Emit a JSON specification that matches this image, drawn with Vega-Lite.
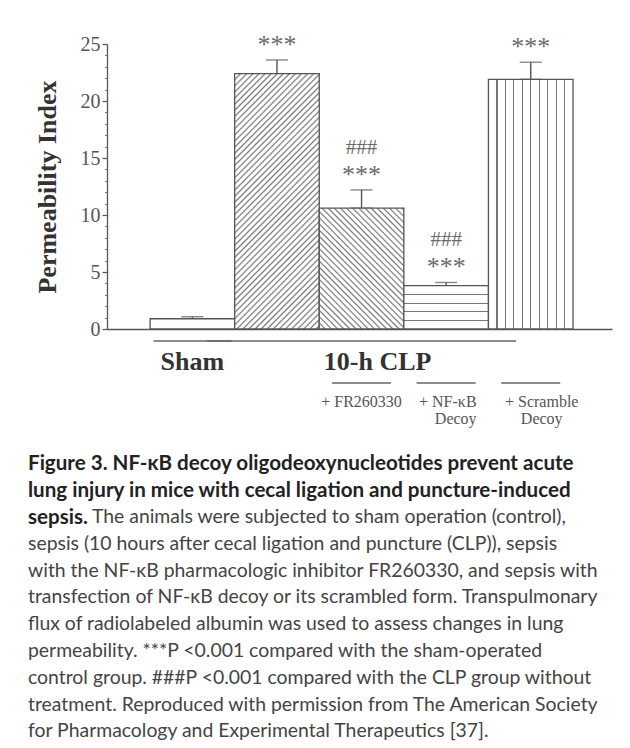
{
  "$schema": "https://vega.github.io/schema/vega-lite/v6.json",
  "width": 505,
  "height": 285,
  "autosize": {"type": "none"},
  "padding": {"left": 107, "top": 44, "right": 18, "bottom": 419},
  "background": "white",
  "config": {"view": {"stroke": null}, "axis": {"grid": false}},
  "title": {
    "text": [
      "Figure 3. NF-κB decoy oligodeoxynucleotides prevent acute",
      "lung injury in mice with cecal ligation and puncture-induced",
      "sepsis."
    ],
    "subtitle": [
      "\u200b\u00a0\u00a0\u00a0\u00a0\u00a0\u00a0\u00a0\u00a0\u00a0\u00a0\u00a0\u00a0\u00a0The animals were subjected to sham operation (control),",
      "sepsis (10 hours after cecal ligation and puncture (CLP)), sepsis",
      "with the NF-κB pharmacologic inhibitor FR260330, and sepsis with",
      "transfection of NF-κB decoy or its scrambled form. Transpulmonary",
      "flux of radiolabeled albumin was used to assess changes in lung",
      "permeability. ***P <0.001 compared with the sham-operated",
      "control group. ###P <0.001 compared with the CLP group without",
      "treatment. Reproduced with permission from The American Society",
      "for Pharmacology and Experimental Therapeutics [37]."
    ],
    "orient": "bottom",
    "anchor": "start",
    "frame": "group",
    "offset": 27,
    "dx": -79,
    "font": "Lato",
    "fontSize": 20.6,
    "fontWeight": "bold",
    "color": "#222222",
    "lineHeight": 26.8,
    "subtitleFont": "Lato",
    "subtitleFontSize": 19.4,
    "subtitleFontWeight": "normal",
    "subtitleColor": "#444444",
    "subtitleLineHeight": 26.8,
    "subtitlePadding": -20.2
  },
  "datasets": {
    "bars": [
      {"group": "Sham", "value": 0.9, "upper": 1.08, "stars": "", "hash": ""},
      {"group": "10-h CLP", "value": 22.4, "upper": 23.6, "stars": "***", "hash": ""},
      {"group": "10-h CLP + FR260330", "value": 10.6, "upper": 12.2, "stars": "***", "hash": "###"},
      {"group": "10-h CLP + NF-κB decoy", "value": 3.8, "upper": 4.08, "stars": "***", "hash": "###"},
      {"group": "10-h CLP + scramble decoy", "value": 21.9, "upper": 23.4, "stars": "***", "hash": ""}
    ],
    "treat": [
      {"group": "10-h CLP + FR260330", "label": "+ FR260330"},
      {"group": "10-h CLP + NF-κB decoy", "label": "+ NF-κB\nDecoy"},
      {"group": "10-h CLP + scramble decoy", "label": "+ Scramble\nDecoy"}
    ]
  },
  "data": {"name": "bars"},
  "layer": [
    {
      "layer": [
        {
          "mark": {"type": "errorbar", "ticks": {"size": 22, "color": "#555555", "thickness": 1.4}, "rule": {"color": "#555555", "strokeWidth": 1.4}},
          "encoding": {
            "x": {"field": "group", "type": "nominal", "title": null, "sort": null,
              "scale": {"domain": ["Sham", "10-h CLP", "10-h CLP + FR260330", "10-h CLP + NF-κB decoy", "10-h CLP + scramble decoy"], "paddingInner": 0, "paddingOuter": 0.485, "align": 0.525},
              "axis": {"labels": false, "ticks": false, "title": null, "domainColor": "#555555", "domainWidth": 1.3}},
            "y": {"field": "value", "type": "quantitative", "scale": {"domain": [0, 25], "nice": false},
              "axis": {"title": "Permeability Index", "values": [0, 5, 10, 15, 20, 25], "tickSize": 5, "tickColor": "#555555", "tickWidth": 1.2, "domainColor": "#555555", "domainWidth": 1.3,
                "labelFont": "Liberation Serif", "labelFontSize": 20, "labelColor": "#555555", "labelPadding": 2,
                "titleFont": "Liberation Serif", "titleFontSize": 26, "titleFontWeight": "bold", "titleColor": "#333333", "titlePadding": 20}},
            "y2": {"field": "upper"}
          }
        },
        {
          "mark": {"type": "bar", "stroke": "#555555", "strokeWidth": 1.3},
          "encoding": {
            "x": {"field": "group", "type": "nominal", "title": null, "sort": null,
              "scale": {"domain": ["Sham", "10-h CLP", "10-h CLP + FR260330", "10-h CLP + NF-κB decoy", "10-h CLP + scramble decoy"], "paddingInner": 0, "paddingOuter": 0.485, "align": 0.525}},
            "y": {"field": "value", "type": "quantitative", "scale": {"domain": [0, 25], "nice": false}, "axis": {"title": "Permeability Index"}},
            "fill": {
              "condition": [
                {"test": "datum.group === '10-h CLP'", "value": {"gradient": "linear", "x1": 0, "y1": 0, "x2": 0.4, "y2": 1.2, "stops": [
                  {"offset":0,"color":"#777"},{"offset":0.005,"color":"#fff"},{"offset":0.013,"color":"#fff"},
                  {"offset":0.018,"color":"#777"},{"offset":0.023,"color":"#fff"},{"offset":0.031,"color":"#fff"},
                  {"offset":0.036,"color":"#777"},{"offset":0.041,"color":"#fff"},{"offset":0.049,"color":"#fff"},
                  {"offset":0.054,"color":"#777"},{"offset":0.059,"color":"#fff"},{"offset":0.067,"color":"#fff"},
                  {"offset":0.072,"color":"#777"},{"offset":0.077,"color":"#fff"},{"offset":0.085,"color":"#fff"},
                  {"offset":0.09,"color":"#777"},{"offset":0.095,"color":"#fff"},{"offset":0.103,"color":"#fff"},
                  {"offset":0.108,"color":"#777"},{"offset":0.113,"color":"#fff"},{"offset":0.121,"color":"#fff"},
                  {"offset":0.126,"color":"#777"},{"offset":0.131,"color":"#fff"},{"offset":0.139,"color":"#fff"},
                  {"offset":0.144,"color":"#777"},{"offset":0.149,"color":"#fff"},{"offset":0.157,"color":"#fff"},
                  {"offset":0.162,"color":"#777"},{"offset":0.167,"color":"#fff"},{"offset":0.175,"color":"#fff"},
                  {"offset":0.18,"color":"#777"},{"offset":0.185,"color":"#fff"},{"offset":0.193,"color":"#fff"},
                  {"offset":0.198,"color":"#777"},{"offset":0.203,"color":"#fff"},{"offset":0.211,"color":"#fff"},
                  {"offset":0.216,"color":"#777"},{"offset":0.221,"color":"#fff"},{"offset":0.229,"color":"#fff"},
                  {"offset":0.234,"color":"#777"},{"offset":0.239,"color":"#fff"},{"offset":0.247,"color":"#fff"},
                  {"offset":0.252,"color":"#777"},{"offset":0.257,"color":"#fff"},{"offset":0.265,"color":"#fff"},
                  {"offset":0.27,"color":"#777"},{"offset":0.275,"color":"#fff"},{"offset":0.283,"color":"#fff"},
                  {"offset":0.288,"color":"#777"},{"offset":0.293,"color":"#fff"},{"offset":0.301,"color":"#fff"},
                  {"offset":0.306,"color":"#777"},{"offset":0.311,"color":"#fff"},{"offset":0.319,"color":"#fff"},
                  {"offset":0.324,"color":"#777"},{"offset":0.329,"color":"#fff"},{"offset":0.337,"color":"#fff"},
                  {"offset":0.342,"color":"#777"},{"offset":0.347,"color":"#fff"},{"offset":0.355,"color":"#fff"},
                  {"offset":0.36,"color":"#777"},{"offset":0.365,"color":"#fff"},{"offset":0.373,"color":"#fff"},
                  {"offset":0.378,"color":"#777"},{"offset":0.383,"color":"#fff"},{"offset":0.391,"color":"#fff"},
                  {"offset":0.396,"color":"#777"},{"offset":0.401,"color":"#fff"},{"offset":0.409,"color":"#fff"},
                  {"offset":0.414,"color":"#777"},{"offset":0.419,"color":"#fff"},{"offset":0.427,"color":"#fff"},
                  {"offset":0.432,"color":"#777"},{"offset":0.437,"color":"#fff"},{"offset":0.445,"color":"#fff"},
                  {"offset":0.45,"color":"#777"},{"offset":0.455,"color":"#fff"},{"offset":0.463,"color":"#fff"},
                  {"offset":0.468,"color":"#777"},{"offset":0.473,"color":"#fff"},{"offset":0.481,"color":"#fff"},
                  {"offset":0.486,"color":"#777"},{"offset":0.491,"color":"#fff"},{"offset":0.499,"color":"#fff"},
                  {"offset":0.504,"color":"#777"},{"offset":0.509,"color":"#fff"},{"offset":0.517,"color":"#fff"},
                  {"offset":0.522,"color":"#777"},{"offset":0.527,"color":"#fff"},{"offset":0.535,"color":"#fff"},
                  {"offset":0.54,"color":"#777"},{"offset":0.545,"color":"#fff"},{"offset":0.553,"color":"#fff"},
                  {"offset":0.558,"color":"#777"},{"offset":0.563,"color":"#fff"},{"offset":0.571,"color":"#fff"},
                  {"offset":0.576,"color":"#777"},{"offset":0.581,"color":"#fff"},{"offset":0.589,"color":"#fff"},
                  {"offset":0.594,"color":"#777"},{"offset":0.599,"color":"#fff"},{"offset":0.607,"color":"#fff"},
                  {"offset":0.612,"color":"#777"},{"offset":0.617,"color":"#fff"},{"offset":0.625,"color":"#fff"},
                  {"offset":0.63,"color":"#777"},{"offset":0.635,"color":"#fff"},{"offset":0.643,"color":"#fff"},
                  {"offset":0.648,"color":"#777"},{"offset":0.653,"color":"#fff"},{"offset":0.661,"color":"#fff"},
                  {"offset":0.666,"color":"#777"},{"offset":0.671,"color":"#fff"},{"offset":0.679,"color":"#fff"},
                  {"offset":0.684,"color":"#777"},{"offset":0.689,"color":"#fff"},{"offset":0.697,"color":"#fff"},
                  {"offset":0.702,"color":"#777"},{"offset":0.707,"color":"#fff"},{"offset":0.715,"color":"#fff"},
                  {"offset":0.72,"color":"#777"},{"offset":0.725,"color":"#fff"},{"offset":0.733,"color":"#fff"},
                  {"offset":0.738,"color":"#777"},{"offset":0.743,"color":"#fff"},{"offset":0.751,"color":"#fff"},
                  {"offset":0.756,"color":"#777"},{"offset":0.761,"color":"#fff"},{"offset":0.769,"color":"#fff"},
                  {"offset":0.774,"color":"#777"},{"offset":0.779,"color":"#fff"},{"offset":0.787,"color":"#fff"},
                  {"offset":0.792,"color":"#777"},{"offset":0.797,"color":"#fff"},{"offset":0.805,"color":"#fff"},
                  {"offset":0.81,"color":"#777"},{"offset":0.815,"color":"#fff"},{"offset":0.823,"color":"#fff"},
                  {"offset":0.828,"color":"#777"},{"offset":0.833,"color":"#fff"},{"offset":0.841,"color":"#fff"},
                  {"offset":0.846,"color":"#777"},{"offset":0.851,"color":"#fff"},{"offset":0.859,"color":"#fff"},
                  {"offset":0.864,"color":"#777"},{"offset":0.869,"color":"#fff"},{"offset":0.877,"color":"#fff"},
                  {"offset":0.882,"color":"#777"},{"offset":0.887,"color":"#fff"},{"offset":0.895,"color":"#fff"},
                  {"offset":0.9,"color":"#777"},{"offset":0.905,"color":"#fff"},{"offset":0.913,"color":"#fff"},
                  {"offset":0.918,"color":"#777"},{"offset":0.923,"color":"#fff"},{"offset":0.931,"color":"#fff"},
                  {"offset":0.936,"color":"#777"},{"offset":0.941,"color":"#fff"},{"offset":0.949,"color":"#fff"},
                  {"offset":0.954,"color":"#777"},{"offset":0.959,"color":"#fff"},{"offset":0.967,"color":"#fff"},
                  {"offset":0.972,"color":"#777"},{"offset":0.977,"color":"#fff"},{"offset":0.985,"color":"#fff"},
                  {"offset":0.99,"color":"#777"},{"offset":0.995,"color":"#fff"}
                ]}},
                {"test": "datum.group === '10-h CLP + FR260330'", "value": {"gradient": "linear", "x1": 0, "y1": 1, "x2": 0.803, "y2": -0.139, "stops": [
                  {"offset":0,"color":"#777"},{"offset":0.008,"color":"#fff"},{"offset":0.022,"color":"#fff"},
                  {"offset":0.03,"color":"#777"},{"offset":0.038,"color":"#fff"},{"offset":0.052,"color":"#fff"},
                  {"offset":0.06,"color":"#777"},{"offset":0.068,"color":"#fff"},{"offset":0.082,"color":"#fff"},
                  {"offset":0.09,"color":"#777"},{"offset":0.098,"color":"#fff"},{"offset":0.112,"color":"#fff"},
                  {"offset":0.12,"color":"#777"},{"offset":0.128,"color":"#fff"},{"offset":0.142,"color":"#fff"},
                  {"offset":0.15,"color":"#777"},{"offset":0.158,"color":"#fff"},{"offset":0.172,"color":"#fff"},
                  {"offset":0.18,"color":"#777"},{"offset":0.188,"color":"#fff"},{"offset":0.202,"color":"#fff"},
                  {"offset":0.21,"color":"#777"},{"offset":0.218,"color":"#fff"},{"offset":0.232,"color":"#fff"},
                  {"offset":0.24,"color":"#777"},{"offset":0.248,"color":"#fff"},{"offset":0.262,"color":"#fff"},
                  {"offset":0.27,"color":"#777"},{"offset":0.278,"color":"#fff"},{"offset":0.292,"color":"#fff"},
                  {"offset":0.3,"color":"#777"},{"offset":0.308,"color":"#fff"},{"offset":0.322,"color":"#fff"},
                  {"offset":0.33,"color":"#777"},{"offset":0.338,"color":"#fff"},{"offset":0.352,"color":"#fff"},
                  {"offset":0.36,"color":"#777"},{"offset":0.368,"color":"#fff"},{"offset":0.382,"color":"#fff"},
                  {"offset":0.39,"color":"#777"},{"offset":0.398,"color":"#fff"},{"offset":0.412,"color":"#fff"},
                  {"offset":0.42,"color":"#777"},{"offset":0.428,"color":"#fff"},{"offset":0.442,"color":"#fff"},
                  {"offset":0.45,"color":"#777"},{"offset":0.458,"color":"#fff"},{"offset":0.472,"color":"#fff"},
                  {"offset":0.48,"color":"#777"},{"offset":0.488,"color":"#fff"},{"offset":0.502,"color":"#fff"},
                  {"offset":0.51,"color":"#777"},{"offset":0.518,"color":"#fff"},{"offset":0.532,"color":"#fff"},
                  {"offset":0.54,"color":"#777"},{"offset":0.548,"color":"#fff"},{"offset":0.562,"color":"#fff"},
                  {"offset":0.57,"color":"#777"},{"offset":0.578,"color":"#fff"},{"offset":0.592,"color":"#fff"},
                  {"offset":0.6,"color":"#777"},{"offset":0.608,"color":"#fff"},{"offset":0.622,"color":"#fff"},
                  {"offset":0.63,"color":"#777"},{"offset":0.638,"color":"#fff"},{"offset":0.652,"color":"#fff"},
                  {"offset":0.66,"color":"#777"},{"offset":0.668,"color":"#fff"},{"offset":0.682,"color":"#fff"},
                  {"offset":0.69,"color":"#777"},{"offset":0.698,"color":"#fff"},{"offset":0.712,"color":"#fff"},
                  {"offset":0.72,"color":"#777"},{"offset":0.728,"color":"#fff"},{"offset":0.742,"color":"#fff"},
                  {"offset":0.75,"color":"#777"},{"offset":0.758,"color":"#fff"},{"offset":0.772,"color":"#fff"},
                  {"offset":0.78,"color":"#777"},{"offset":0.788,"color":"#fff"},{"offset":0.802,"color":"#fff"},
                  {"offset":0.81,"color":"#777"},{"offset":0.818,"color":"#fff"},{"offset":0.832,"color":"#fff"},
                  {"offset":0.84,"color":"#777"},{"offset":0.848,"color":"#fff"},{"offset":0.862,"color":"#fff"},
                  {"offset":0.87,"color":"#777"},{"offset":0.878,"color":"#fff"},{"offset":0.892,"color":"#fff"},
                  {"offset":0.9,"color":"#777"},{"offset":0.908,"color":"#fff"},{"offset":0.922,"color":"#fff"},
                  {"offset":0.93,"color":"#777"},{"offset":0.938,"color":"#fff"},{"offset":0.952,"color":"#fff"},
                  {"offset":0.96,"color":"#777"},{"offset":0.968,"color":"#fff"},{"offset":0.982,"color":"#fff"},
                  {"offset":0.99,"color":"#777"},{"offset":0.998,"color":"#fff"}
                ]}},
                {"test": "datum.group === '10-h CLP + NF-κB decoy'", "value": {"gradient": "linear", "x1": 0, "y1": 0, "x2": 0, "y2": 1, "stops": [
                  {"offset":0,"color":"#fff"},
                  {"offset":0.19,"color":"#fff"},{"offset":0.19,"color":"#777"},{"offset":0.215,"color":"#777"},{"offset":0.215,"color":"#fff"},
                  {"offset":0.39,"color":"#fff"},{"offset":0.39,"color":"#777"},{"offset":0.415,"color":"#777"},{"offset":0.415,"color":"#fff"},
                  {"offset":0.59,"color":"#fff"},{"offset":0.59,"color":"#777"},{"offset":0.615,"color":"#777"},{"offset":0.615,"color":"#fff"},
                  {"offset":0.79,"color":"#fff"},{"offset":0.79,"color":"#777"},{"offset":0.815,"color":"#777"},{"offset":0.815,"color":"#fff"},
                  {"offset":1,"color":"#fff"}
                ]}},
                {"test": "datum.group === '10-h CLP + scramble decoy'", "value": {"gradient": "linear", "x1": 0, "y1": 0, "x2": 1, "y2": 0, "stops": [
                  {"offset":0,"color":"#fff"},
                  {"offset":0.093,"color":"#fff"},{"offset":0.093,"color":"#777"},{"offset":0.108,"color":"#777"},{"offset":0.108,"color":"#fff"},
                  {"offset":0.193,"color":"#fff"},{"offset":0.193,"color":"#777"},{"offset":0.208,"color":"#777"},{"offset":0.208,"color":"#fff"},
                  {"offset":0.293,"color":"#fff"},{"offset":0.293,"color":"#777"},{"offset":0.308,"color":"#777"},{"offset":0.308,"color":"#fff"},
                  {"offset":0.393,"color":"#fff"},{"offset":0.393,"color":"#777"},{"offset":0.408,"color":"#777"},{"offset":0.408,"color":"#fff"},
                  {"offset":0.493,"color":"#fff"},{"offset":0.493,"color":"#777"},{"offset":0.508,"color":"#777"},{"offset":0.508,"color":"#fff"},
                  {"offset":0.593,"color":"#fff"},{"offset":0.593,"color":"#777"},{"offset":0.608,"color":"#777"},{"offset":0.608,"color":"#fff"},
                  {"offset":0.693,"color":"#fff"},{"offset":0.693,"color":"#777"},{"offset":0.708,"color":"#777"},{"offset":0.708,"color":"#fff"},
                  {"offset":0.793,"color":"#fff"},{"offset":0.793,"color":"#777"},{"offset":0.808,"color":"#777"},{"offset":0.808,"color":"#fff"},
                  {"offset":0.893,"color":"#fff"},{"offset":0.893,"color":"#777"},{"offset":0.908,"color":"#777"},{"offset":0.908,"color":"#fff"},
                  {"offset":1,"color":"#fff"}
                ]}}
              ],
              "value": "white"
            }
          }
        },
        {
          "mark": {"type": "text", "font": "Liberation Serif", "fontSize": 26, "color": "#6b6b6b", "baseline": "alphabetic", "dy": -7},
          "encoding": {
            "x": {"field": "group", "type": "nominal", "title": null, "sort": null,
              "scale": {"domain": ["Sham", "10-h CLP", "10-h CLP + FR260330", "10-h CLP + NF-κB decoy", "10-h CLP + scramble decoy"], "paddingInner": 0, "paddingOuter": 0.485, "align": 0.525}},
            "y": {"field": "upper", "type": "quantitative", "scale": {"domain": [0, 25], "nice": false}},
            "text": {"field": "stars"}
          }
        },
        {
          "mark": {"type": "text", "font": "Liberation Serif", "fontSize": 21, "color": "#6b6b6b", "baseline": "alphabetic", "dy": -36},
          "encoding": {
            "x": {"field": "group", "type": "nominal", "title": null, "sort": null,
              "scale": {"domain": ["Sham", "10-h CLP", "10-h CLP + FR260330", "10-h CLP + NF-κB decoy", "10-h CLP + scramble decoy"], "paddingInner": 0, "paddingOuter": 0.485, "align": 0.525}},
            "y": {"field": "upper", "type": "quantitative", "scale": {"domain": [0, 25], "nice": false}},
            "text": {"field": "hash"}
          }
        },
        {
          "data": {"values": [{"group": "Sham"}]},
          "mark": {"type": "tick", "size": 78, "thickness": 1.6, "color": "#666666", "opacity": 1},
          "encoding": {
            "x": {"field": "group", "type": "nominal", "title": null, "sort": null,
              "scale": {"domain": ["Sham", "10-h CLP", "10-h CLP + FR260330", "10-h CLP + NF-κB decoy", "10-h CLP + scramble decoy"], "paddingInner": 0, "paddingOuter": 0.485, "align": 0.525}},
            "y": {"datum": -1.05, "type": "quantitative", "scale": {"domain": [0, 25], "nice": false}}
          }
        },
        {
          "data": {"values": [{"group": "10-h CLP + FR260330"}]},
          "mark": {"type": "tick", "size": 309, "thickness": 1.6, "color": "#666666", "opacity": 1},
          "encoding": {
            "x": {"field": "group", "type": "nominal", "title": null, "sort": null, "bandPosition": 1,
              "scale": {"domain": ["Sham", "10-h CLP", "10-h CLP + FR260330", "10-h CLP + NF-κB decoy", "10-h CLP + scramble decoy"], "paddingInner": 0, "paddingOuter": 0.485, "align": 0.525}},
            "y": {"datum": -1.05, "type": "quantitative", "scale": {"domain": [0, 25], "nice": false}}
          }
        },
        {
          "data": {"values": [{"group": "Sham", "label": "Sham"}]},
          "mark": {"type": "text", "font": "Liberation Serif", "fontSize": 26, "fontWeight": "bold", "color": "#333333", "baseline": "alphabetic"},
          "encoding": {
            "x": {"field": "group", "type": "nominal", "title": null, "sort": null,
              "scale": {"domain": ["Sham", "10-h CLP", "10-h CLP + FR260330", "10-h CLP + NF-κB decoy", "10-h CLP + scramble decoy"], "paddingInner": 0, "paddingOuter": 0.485, "align": 0.525}},
            "y": {"datum": -3.6, "type": "quantitative", "scale": {"domain": [0, 25], "nice": false}},
            "text": {"field": "label"}
          }
        },
        {
          "data": {"values": [{"group": "10-h CLP + FR260330", "label": "10-h CLP"}]},
          "mark": {"type": "text", "font": "Liberation Serif", "fontSize": 26, "fontWeight": "bold", "color": "#333333", "baseline": "alphabetic"},
          "encoding": {
            "x": {"field": "group", "type": "nominal", "title": null, "sort": null, "bandPosition": 0.69,
              "scale": {"domain": ["Sham", "10-h CLP", "10-h CLP + FR260330", "10-h CLP + NF-κB decoy", "10-h CLP + scramble decoy"], "paddingInner": 0, "paddingOuter": 0.485, "align": 0.525}},
            "y": {"datum": -3.6, "type": "quantitative", "scale": {"domain": [0, 25], "nice": false}},
            "text": {"field": "label"}
          }
        },
        {
          "data": {"name": "treat"},
          "mark": {"type": "tick", "size": 59, "thickness": 1.6, "color": "#666666", "opacity": 1},
          "encoding": {
            "x": {"field": "group", "type": "nominal", "title": null, "sort": null,
              "scale": {"domain": ["Sham", "10-h CLP", "10-h CLP + FR260330", "10-h CLP + NF-κB decoy", "10-h CLP + scramble decoy"], "paddingInner": 0, "paddingOuter": 0.485, "align": 0.525}},
            "y": {"datum": -4.74, "type": "quantitative", "scale": {"domain": [0, 25], "nice": false}}
          }
        },
        {
          "data": {"name": "treat"},
          "transform": [{"filter": "datum.group === '10-h CLP + FR260330'"}],
          "mark": {"type": "text", "font": "Liberation Serif", "fontSize": 16, "color": "#555555", "baseline": "alphabetic", "align": "center", "lineBreak": "\n", "lineHeight": 17},
          "encoding": {
            "x": {"field": "group", "type": "nominal", "title": null, "sort": null, "bandPosition": 0.5,
              "scale": {"domain": ["Sham", "10-h CLP", "10-h CLP + FR260330", "10-h CLP + NF-κB decoy", "10-h CLP + scramble decoy"], "paddingInner": 0, "paddingOuter": 0.485, "align": 0.525}},
            "y": {"datum": -6.84, "type": "quantitative", "scale": {"domain": [0, 25], "nice": false}},
            "text": {"field": "label"}
          }
        },
        {
          "data": {"name": "treat"},
          "transform": [{"filter": "datum.group === '10-h CLP + NF-κB decoy'"}],
          "mark": {"type": "text", "font": "Liberation Serif", "fontSize": 16, "color": "#555555", "baseline": "alphabetic", "align": "right", "lineBreak": "\n", "lineHeight": 17},
          "encoding": {
            "x": {"field": "group", "type": "nominal", "title": null, "sort": null, "bandPosition": 0.86,
              "scale": {"domain": ["Sham", "10-h CLP", "10-h CLP + FR260330", "10-h CLP + NF-κB decoy", "10-h CLP + scramble decoy"], "paddingInner": 0, "paddingOuter": 0.485, "align": 0.525}},
            "y": {"datum": -6.84, "type": "quantitative", "scale": {"domain": [0, 25], "nice": false}},
            "text": {"field": "label"}
          }
        },
        {
          "data": {"name": "treat"},
          "transform": [{"filter": "datum.group === '10-h CLP + scramble decoy'"}],
          "mark": {"type": "text", "font": "Liberation Serif", "fontSize": 16, "color": "#555555", "baseline": "alphabetic", "align": "center", "lineBreak": "\n", "lineHeight": 17},
          "encoding": {
            "x": {"field": "group", "type": "nominal", "title": null, "sort": null, "bandPosition": 0.63,
              "scale": {"domain": ["Sham", "10-h CLP", "10-h CLP + FR260330", "10-h CLP + NF-κB decoy", "10-h CLP + scramble decoy"], "paddingInner": 0, "paddingOuter": 0.485, "align": 0.525}},
            "y": {"datum": -6.84, "type": "quantitative", "scale": {"domain": [0, 25], "nice": false}},
            "text": {"field": "label"}
          }
        }
      ]
    },
    {
      "mark": {"type": "point", "opacity": 0},
      "encoding": {
        "y": {"field": "value", "type": "quantitative", "scale": {"domain": [0, 25], "nice": false},
          "axis": {"orient": "left", "values": [1, 2, 3, 4, 6, 7, 8, 9, 11, 12, 13, 14, 16, 17, 18, 19, 21, 22, 23, 24], "labels": false, "domain": false, "tickSize": 2.5, "tickColor": "#777777", "tickWidth": 1, "title": null, "grid": false}}
      }
    }
  ],
  "resolve": {"scale": {"y": "independent"}, "axis": {"y": "independent"}}
}
